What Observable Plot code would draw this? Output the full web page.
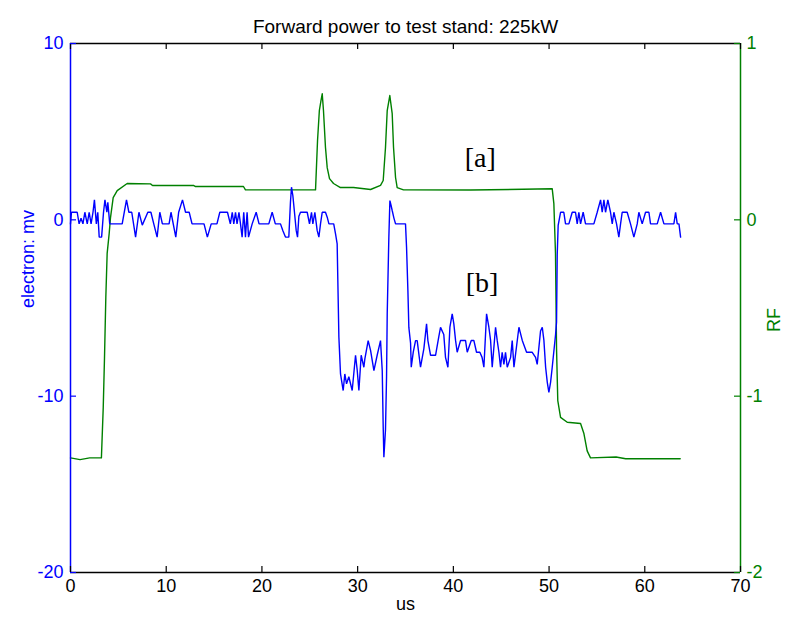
<!DOCTYPE html>
<html><head><meta charset="utf-8">
<script src="https://cdn.jsdelivr.net/npm/d3@7"></script>
<script src="https://cdn.jsdelivr.net/npm/@observablehq/plot@0.6"></script>
<style>body{margin:0;background:#fff}</style>
</head><body><div id="chart"></div>
<script>
const title = "Forward power to test stand: 225kW";
const xLabel = "us";
const leftLabel = "electron: mv";
const rightLabel = "RF";
const xTicks = [0, 10, 20, 30, 40, 50, 60, 70];
const leftTicks = [-20, -10, 0, 10];
const rightTicks = [-2, -1, 0, 1];
const RF_TO_MV = 10; // right axis (-2..1) shares the frame with left axis (-20..10)

// electron signal (mV) vs time (us)
const electronT = [0,0.1,0.7,0.9,1.1,1.3,1.5,1.75,1.95,2.15,2.35,2.5,2.7,2.85,3.0,3.25,3.45,3.6,3.8,3.9,4.1,5.4,
  5.85,6.1,6.4,6.8,7.15,7.5,8.08,8.4,8.7,9.05,9.33,9.6,10.3,10.5,11.0,11.3,11.7,12.02,12.4,12.7,13.95,14.3,14.7,15.3,15.6,16.4,
  16.7,16.9,17.06,17.24,17.4,17.6,17.76,17.93,18.1,18.28,18.45,18.6,18.98,19.4,19.7,20.72,21.07,21.4,21.94,22.18,22.46,22.81,
  22.98,23.09,23.23,23.4,23.58,23.72,23.86,24.03,24.73,24.97,25.18,25.32,25.53,25.77,25.95,26.12,26.3,26.64,
  26.82,27.0,27.5,27.69,27.86,27.93,28.04,28.21,28.49,28.66,28.84,29.08,29.43,29.78,29.95,30.13,30.37,30.65,30.75,31.1,31.35,31.7,
  32.04,32.39,32.57,32.67,32.74,32.91,33.02,33.09,33.26,33.37,33.5,33.61,33.79,33.96,35.0,35.11,35.25,35.35,35.53,35.6,35.81,
  36.05,36.22,36.57,36.92,37.2,37.34,37.62,38.14,38.49,38.66,
  39.0,39.18,39.43,39.64,39.88,40.05,40.23,40.4,40.75,41.27,41.45,41.87,42.14,42.42,42.77,43.0,43.19,43.47,43.71,43.89,44.06,
  44.41,44.58,44.76,44.93,45.1,45.28,45.45,45.63,45.98,46.15,46.33,46.85,47.2,47.65,48.24,48.59,48.76,49.11,49.29,49.46,49.64,
  49.81,49.98,50.16,50.33,50.68,50.78,50.85,50.95,51.2,51.54,51.72,52.07,52.42,52.76,52.94,53.11,53.29,53.56,53.81,54.68,
  55.03,55.38,55.55,55.73,55.9,56.14,56.42,56.6,56.77,57.05,57.29,57.47,57.64,58.16,58.51,58.86,59.21,59.38,59.73,60.08,60.43,
  60.6,61.3,61.65,62.0,63.04,63.22,63.39,63.57,63.74];
const electronMv = [-0.23,0.43,0.43,-0.23,0.09,-0.23,0.43,-0.23,0.43,-0.23,0.43,1.13,-0.23,0.43,-0.98,-0.98,0.43,1.13,0.43,1.0,-0.23,-0.23,
  1.13,0.43,0.43,-0.98,0.43,-0.3,0.43,0.43,-0.23,-0.98,0.43,-0.23,-0.23,0.43,-0.98,0.43,1.13,0.43,0.43,-0.23,-0.23,-0.98,-0.23,-0.23,0.43,0.43,
  -0.23,0.43,-0.23,0.43,-0.23,0.43,-0.23,-0.98,0.43,-0.98,0.43,-0.98,-0.23,0.43,-0.23,-0.23,0.43,-0.23,-0.23,-0.6,-0.98,-0.98,
  1.0,1.85,1.38,0.43,-0.6,-0.98,0.2,0.43,0.43,-0.23,0.43,-0.23,0.43,-0.6,-0.98,-0.23,0.43,0.43,
  0.15,-0.23,-0.23,-0.8,-1.36,-3.44,-6.66,-8.74,-9.68,-8.74,-9.3,-8.9,-9.68,-7.68,-8.5,-9.68,-7.68,-8.36,-7.9,-6.85,-7.4,-8.55,
  -7.68,-6.85,-8.55,-11.75,-13.46,-11.9,-8.9,-5.33,-1.0,1.09,0.8,0.53,0.1,-0.23,-0.23,-1.56,-4.0,-6.1,-7.0,-8.36,-7.5,
  -6.85,-6.85,-8.36,-7.3,-5.9,-6.85,-7.68,-7.68,-6.6,-6.1,
  -6.5,-7.8,-8.36,-6.09,-5.33,-5.9,-6.84,-7.51,-6.84,-6.84,-7.51,-6.84,-6.84,-7.51,-7.51,-7.8,-8.36,-5.33,-6.09,-6.84,-8.36,
  -6.09,-6.84,-7.51,-8.36,-7.51,-8.2,-7.51,-8.36,-7.8,-6.84,-8.36,-6.09,-6.84,-7.51,-7.51,-7.8,-8.2,-6.3,-6.09,-6.84,-8.36,
  -9.2,-9.78,-9.2,-8.36,-6.5,-5.8,-2.0,-0.32,0.43,0.43,-0.23,-0.23,0.43,0.43,-0.23,0.43,-0.23,0.43,-0.23,-0.23,
  0.43,1.13,0.43,1.13,0.43,1.13,0.43,-0.23,0.43,-0.23,-0.98,-0.23,0.43,0.43,-0.23,-0.98,-0.23,0.43,-0.23,0.43,0.43,
  -0.23,-0.23,0.43,-0.23,-0.23,0.43,-0.23,-0.23,-0.98];

// RF signal (normalized) vs time (us)
const rfT = [0,1.0,2.0,3.23,3.42,3.55,3.69,3.83,4.04,4.18,4.46,4.88,5.92,8.36,8.57,12.85,13.06,18.07,18.28,25.6,
  25.81,26.0,26.17,26.3,26.43,26.64,26.82,27.06,27.48,28.2,29.57,31.35,32.39,32.67,32.91,33.09,33.36,33.61,33.75,33.96,34.13,34.79,
  41.8,50.33,50.5,50.67,50.78,50.91,51.2,51.9,53.29,53.63,53.98,54.33,57.0,58.0,63.7];
const rfVal = [-1.35,-1.36,-1.35,-1.35,-1.065,-0.787,-0.44,-0.19,-0.078,0.013,0.126,0.166,0.206,0.204,0.195,0.195,0.189,0.189,0.17,0.17,
  0.45,0.62,0.676,0.715,0.62,0.41,0.296,0.234,0.206,0.183,0.183,0.172,0.195,0.223,0.41,0.62,0.705,0.602,0.41,0.24,0.183,0.17,
  0.169,0.176,0.092,-0.19,-0.73,-1.025,-1.12,-1.148,-1.155,-1.21,-1.31,-1.35,-1.345,-1.355,-1.355];

const annText = ["[a]", "[b]"];
const annX = [42.8, 43.0];
const annY = [3.5, -3.6];

const electron = electronT.map((t, i) => ({t, v: electronMv[i]}));
const rf = rfT.map((t, i) => ({t, v: rfVal[i]}));
const ann = annText.map((s, i) => ({s, x: annX[i], y: annY[i]}));

const BLUE = "#0000ff", GREEN = "#008000";
const W = 785, H = 622, mT = 43, mB = 50, mL = 70, mR = 45;
const frameH = H - mT - mB, frameW = W - mL - mR, tick = 6;

const chart = Plot.plot({
  width: W, height: H,
  marginTop: mT, marginBottom: mB, marginLeft: mL, marginRight: mR,
  style: {fontFamily: "'Liberation Sans', Arial, sans-serif", fontSize: "18px", background: "#fff", overflow: "visible"},
  x: {domain: [0, 70]},
  y: {domain: [-20, 10]},
  marks: [
    Plot.line(rf, {x: "t", y: d => d.v * RF_TO_MV, stroke: GREEN, strokeWidth: 1.4}),
    Plot.line(electron, {x: "t", y: "v", stroke: BLUE, strokeWidth: 1.4, strokeLinejoin: "miter"}),
    Plot.text(ann, {x: "x", y: "y", text: "s", fontFamily: "'Liberation Serif', 'Times New Roman', serif", fontSize: 28, fill: "#000"}),
    // frame
    Plot.ruleY([10, -20], {stroke: "#000", strokeWidth: 1.5}),
    Plot.ruleX([0], {stroke: BLUE, strokeWidth: 1.5}),
    Plot.ruleX([70], {stroke: GREEN, strokeWidth: 1.5}),
    // inward ticks
    Plot.tickX(xTicks, {x: d => d, insetTop: frameH - tick, stroke: "#000", strokeWidth: 1.2}),
    Plot.tickX(xTicks, {x: d => d, insetBottom: frameH - tick, stroke: "#000", strokeWidth: 1.2}),
    Plot.tickY(leftTicks, {y: d => d, insetRight: frameW - tick, stroke: BLUE, strokeWidth: 1.2}),
    Plot.tickY(rightTicks.map(v => v * RF_TO_MV), {y: d => d, insetLeft: frameW - tick, stroke: GREEN, strokeWidth: 1.2}),
    // tick labels
    Plot.axisX(xTicks, {anchor: "bottom", tickSize: 0, tickPadding: 7, tickFormat: d => String(d), color: "#000", label: null}),
    Plot.axisY(leftTicks, {anchor: "left", tickSize: 0, tickPadding: 7, tickFormat: d => String(d), color: BLUE, label: null}),
    Plot.axisY(rightTicks.map(v => v * RF_TO_MV), {anchor: "right", tickSize: 0, tickPadding: 6, tickFormat: d => String(d / RF_TO_MV), color: GREEN, label: null}),
    // labels
    Plot.text([title], {frameAnchor: "top", dy: -24, fill: "#000", fontSize: 19}),
    Plot.text([xLabel], {frameAnchor: "bottom", dy: 37, fill: "#000", fontSize: 18}),
    Plot.text([leftLabel], {frameAnchor: "left", dx: -42, rotate: -90, fill: BLUE, fontSize: 18}),
    Plot.text([rightLabel], {frameAnchor: "right", dx: 34, rotate: -90, fill: GREEN, fontSize: 18})
  ]
});
document.getElementById("chart").append(chart);
</script>
</body></html>
